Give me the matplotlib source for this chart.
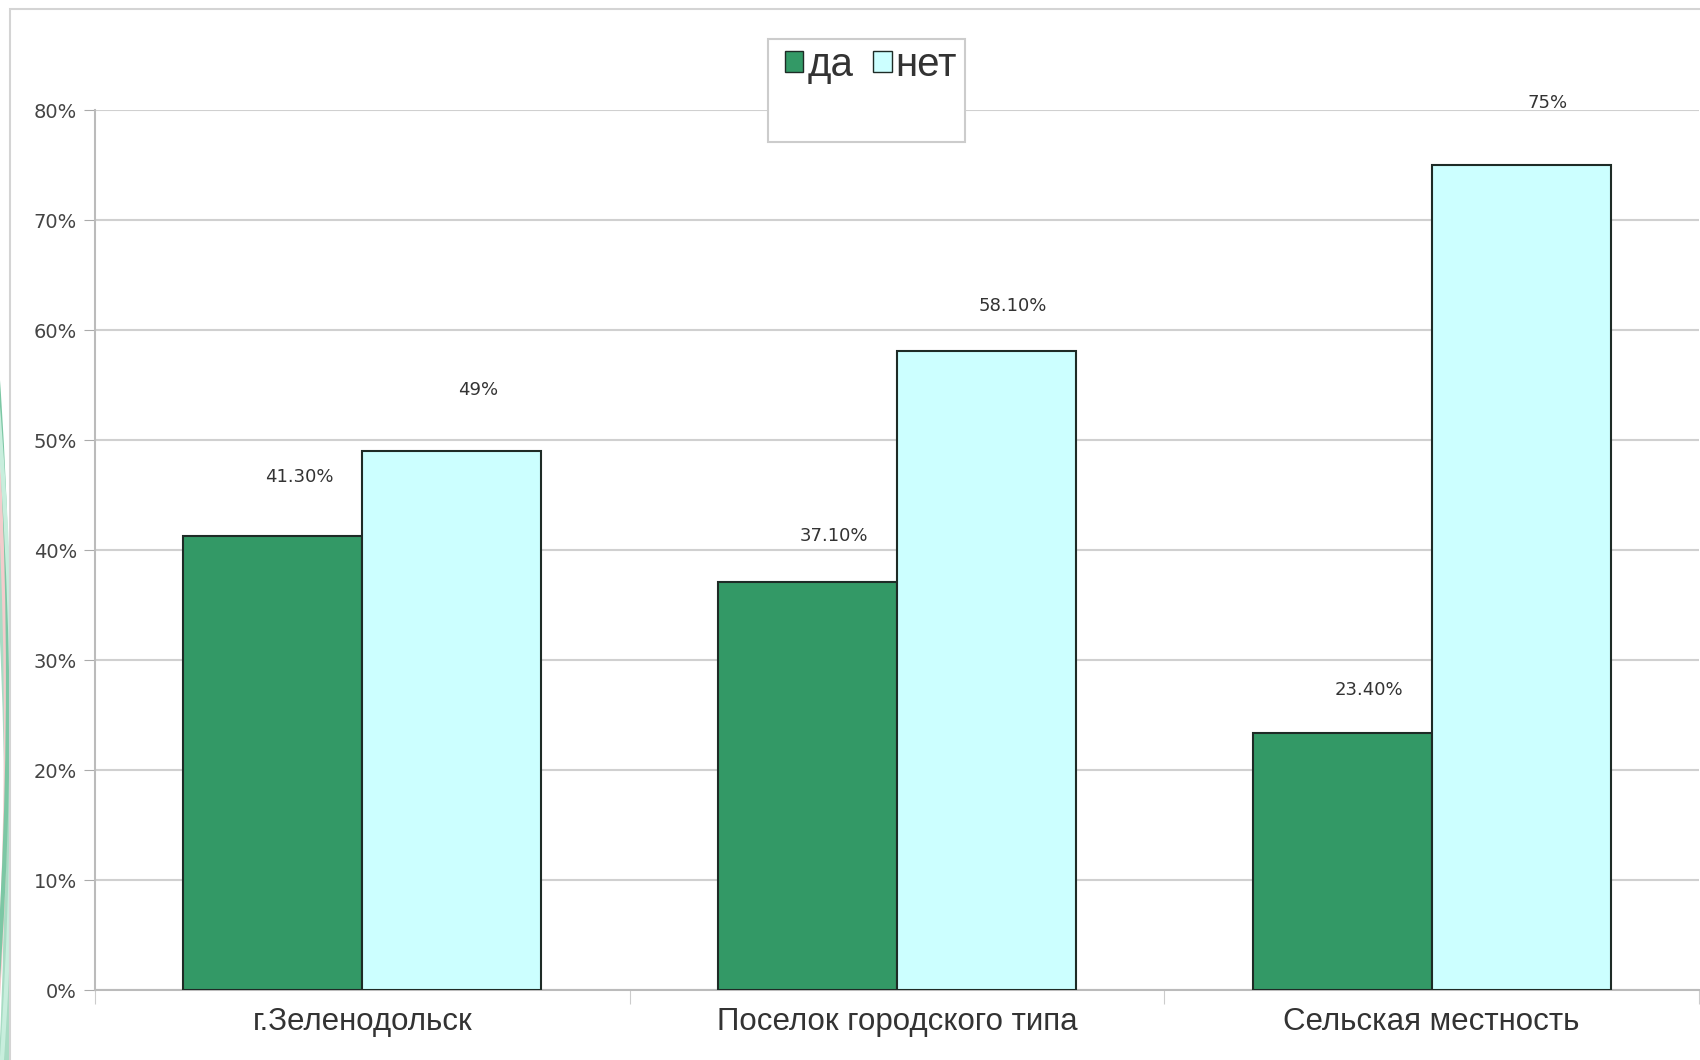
import numpy as np
import matplotlib.pyplot as plt
from matplotlib.patches import Rectangle, Patch, Arc

categories = ['г.Зеленодольск', 'Поселок городского типа', 'Сельская местность']
da = [41.3, 37.1, 23.4]
net = [49.0, 58.1, 75.0]
da_labels = ['41.30%', '37.10%', '23.40%']
net_labels = ['49%', '58.10%', '75%']
yticks = [0, 10, 20, 30, 40, 50, 60, 70, 80]

# how far above each bar its label sits (points)
da_offsets = [42, 33, 31]
net_offsets = [44, 32, 45]

green = '#339966'
cyan = '#ccffff'
edge = '#1e2b26'

fig = plt.figure(figsize=(17, 10.6), dpi=100)

# slide decoration on the left edge (pixel coords)
for cx, cy, rx, ry, col, lw in [(-1500, 220, 1510, 2600, '#a8dcc4', 8),
                                (-1500, 330, 1506, 2600, '#f3cccc', 3),
                                (-1500, 380, 1508, 2600, '#7cc7a4', 3),
                                (-1500, 300, 1512, 2600, '#c8eedd', 3)]:
    fig.add_artist(Arc((cx, cy), 2 * rx, 2 * ry, theta1=-30, theta2=30,
                       transform=None, color=col, lw=lw, zorder=-2))

# chart area frame
fig.add_artist(Rectangle((10 / 1700, -0.02), 1.05, 1 - 9 / 1060 + 0.02,
                         transform=fig.transFigure, facecolor='white',
                         edgecolor='#d4d4d4', lw=1.5, zorder=-1))

ax = fig.add_axes([95 / 1700, 70 / 1060, 1604 / 1700, 880 / 1060])
ax.set_facecolor('none')

x = np.arange(len(categories)) + 0.5
w = 0.335
b1 = ax.bar(x - w / 2, da, w, color=green, edgecolor=edge, lw=1.5, zorder=3)
b2 = ax.bar(x + w / 2, net, w, color=cyan, edgecolor=edge, lw=1.5, zorder=3)

for bars, labels, offs in [(b1, da_labels, da_offsets), (b2, net_labels, net_offsets)]:
    for bar, lab, off in zip(bars, labels, offs):
        ax.annotate(lab, (bar.get_x() + bar.get_width() / 2, bar.get_height()),
                    xytext=(19, off), textcoords='offset points',
                    ha='center', va='center', fontsize=13, color='#333333')

ax.set_xlim(0, 3)
ax.set_ylim(0, 80)
ax.set_yticks(yticks)
ax.set_yticklabels([f'{t}%' for t in yticks], fontsize=14, color='#444444')
ax.yaxis.grid(True, color='#d0d0d0', lw=1.5, zorder=0)
ax.tick_params(axis='y', length=8, color='#aaaaaa', pad=5)

ax.set_xticks([0, 1, 2, 3])
ax.set_xticklabels([])
ax.set_xticks(x, minor=True)
ax.set_xticklabels(categories, minor=True, fontsize=22.5, color='#333333',
                   family='Liberation Sans')
ax.tick_params(axis='x', which='major', length=10, color='#cccccc')
ax.tick_params(axis='x', which='minor', length=0, pad=12)

for s in ['top', 'right']:
    ax.spines[s].set_visible(False)
for s in ['left', 'bottom']:
    ax.spines[s].set_color('#bbbbbb')
    ax.spines[s].set_linewidth(1.5)

# legend box
fig.add_artist(Rectangle((768 / 1700, 1 - 142 / 1060), 197 / 1700, 103 / 1060,
                         transform=fig.transFigure, facecolor='white',
                         edgecolor='#cccccc', lw=1.5, zorder=5))
handles = [Patch(facecolor=green, edgecolor=edge, label='да'),
           Patch(facecolor=cyan, edgecolor=edge, label='нет')]
leg = fig.legend(handles=handles, loc='center left', ncol=2,
                 bbox_to_anchor=(765 / 1700, 1 - 65 / 1060), frameon=False,
                 handlelength=0.45, handleheight=0.45,
                 handletextpad=0.1, columnspacing=0.5, borderpad=0,
                 prop={'family': 'Liberation Sans', 'size': 29})
leg.set_zorder(6)
for t in leg.get_texts():
    t.set_color('#333333')

fig.savefig('out.png', dpi=100, facecolor='white')
